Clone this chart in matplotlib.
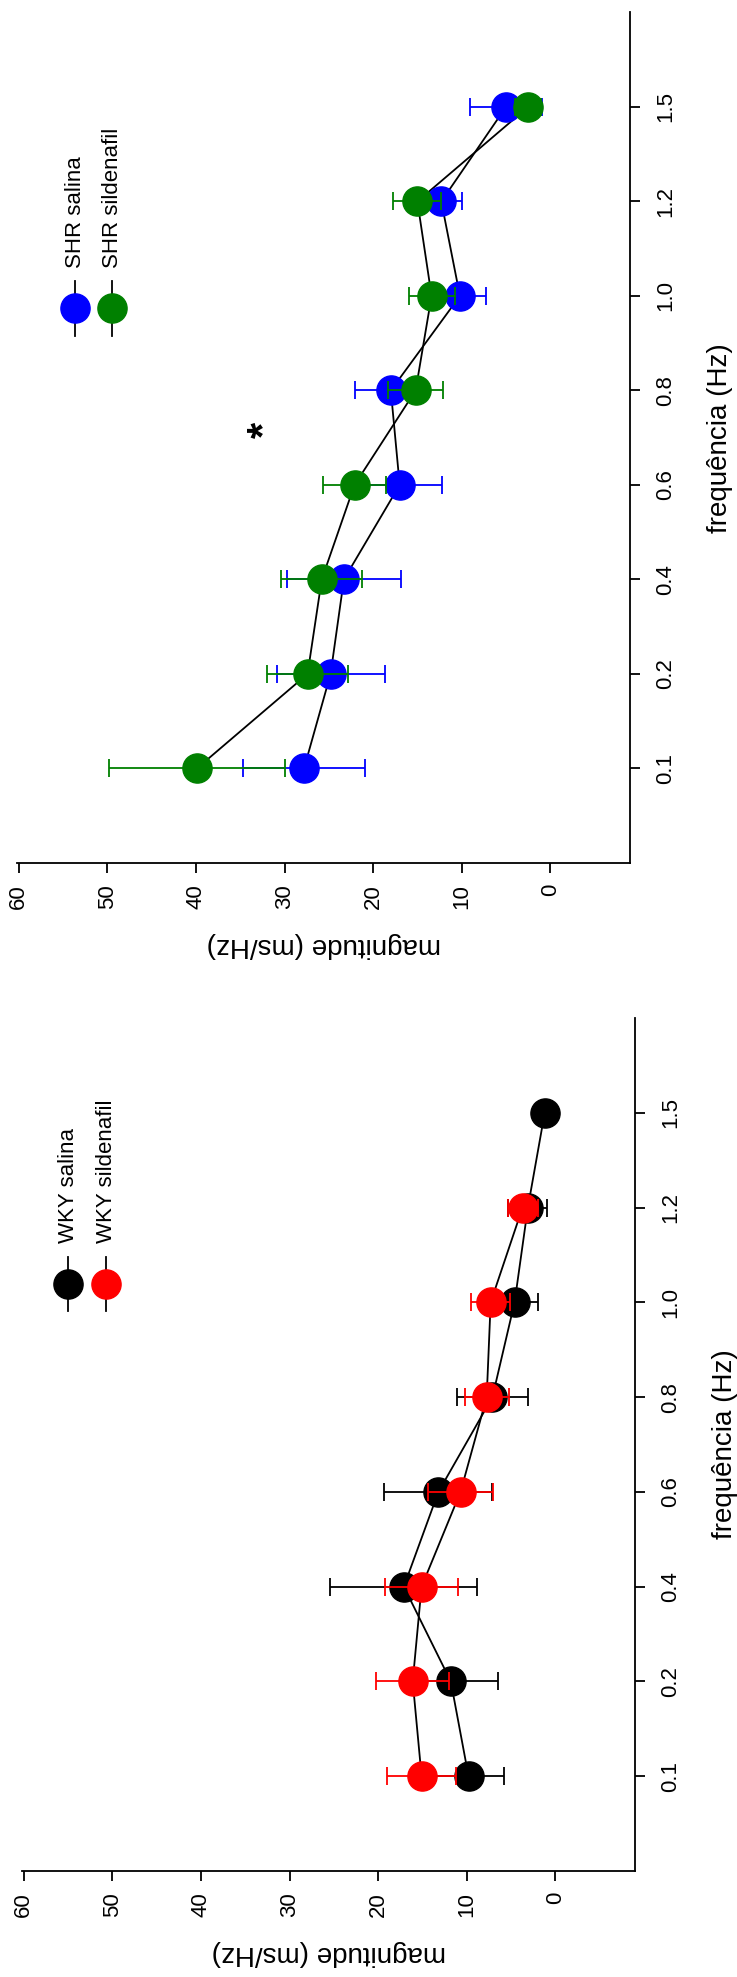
import matplotlib
matplotlib.use('Agg')
import matplotlib.pyplot as plt

plt.rcParams['font.family'] = ['Liberation Sans', 'DejaVu Sans']

# ---------------- data ----------------
freq_labels = ['0.1', '0.2', '0.4', '0.6', '0.8', '1.0', '1.2', '1.5']
freq_pos = [1, 2, 3, 4, 5, 6, 7, 8]

# WKY (bottom panel)
wky_salina = [9.8, 11.8, 17.1, 13.2, 7.1, 4.6, 3.1, 1.2]
wky_salina_err = [4.0, 5.3, 8.3, 6.1, 4.0, 2.6, 2.2, 0.8]
wky_silden = [15.1, 16.1, 15.1, 10.7, 7.75, 7.3, 3.7]
wky_silden_err = [3.9, 4.1, 4.1, 3.7, 2.5, 2.2, 1.7]

# SHR (top panel)
shr_salina = [27.8, 24.8, 23.3, 17.0, 18.0, 10.2, 12.3, 5.0]
shr_salina_err = [6.9, 6.1, 6.4, 4.8, 4.1, 2.9, 2.3, 4.1]
shr_silden = [39.9, 27.4, 25.8, 22.1, 15.2, 13.4, 15.0, 2.5]
shr_silden_err = [9.9, 4.6, 4.6, 3.6, 3.1, 2.6, 2.7, 1.5]

mag_ticks = [0, 10, 20, 30, 40, 50, 60]

# significance mark (magnitude, frequency position)
star_mag = 32.2
star_pos = 4.58

MS = 21      # marker size (pt)
LW = 1.3
CAP = 6.8
FS_TICK = 16
FS_LAB = 20


def draw_panel(ax, sal, sal_err, sil, sil_err, c_sal, c_sil, names, leg):
    # black connecting lines, under everything
    ax.plot(sal, freq_pos[:len(sal)], color='black', lw=LW, zorder=1)
    ax.plot(sil, freq_pos[:len(sil)], color='black', lw=LW, zorder=1)

    # salina: points then error bars
    ax.plot(sal, freq_pos[:len(sal)], 'o', ms=MS, color=c_sal, mec=c_sal, zorder=2)
    ax.errorbar(sal, freq_pos[:len(sal)], xerr=sal_err, fmt='none', ecolor=c_sal,
                elinewidth=LW, capsize=CAP, capthick=LW, zorder=3)
    # sildenafil on top
    ax.plot(sil, freq_pos[:len(sil)], 'o', ms=MS, color=c_sil, mec=c_sil, zorder=4)
    ax.errorbar(sil, freq_pos[:len(sil)], xerr=sil_err, fmt='none', ecolor=c_sil,
                elinewidth=LW, capsize=CAP, capthick=LW, zorder=5)

    # axes (rotated R-style plot)
    ax.set_xlim(60.2, -9.0)
    ax.set_ylim(0, 9)
    ax.set_xticks(mag_ticks)
    ax.set_xticklabels([str(t) for t in mag_ticks], rotation=90, fontsize=FS_TICK,
                       va='top', ha='center')
    ax.set_yticks(freq_pos)
    ax.set_yticklabels(freq_labels, rotation=90, fontsize=FS_TICK, va='center')
    ax.yaxis.tick_right()
    ax.yaxis.set_label_position('right')
    ax.spines['top'].set_visible(False)
    ax.spines['left'].set_visible(False)
    ax.spines['bottom'].set_linewidth(LW)
    ax.spines['right'].set_linewidth(LW)
    ax.tick_params(axis='both', direction='out', length=7, width=LW)
    ax.tick_params(axis='x', pad=8)
    ax.tick_params(axis='y', pad=11)
    ax.set_xlabel('magnitude (ms/Hz)', rotation=180, fontsize=FS_LAB, labelpad=17)
    ax.set_ylabel('frequência (Hz)', rotation=90, fontsize=FS_LAB, labelpad=22)

    # manual legend (rotated)
    xs, yc, ytxt = leg
    for xf, col, name in zip(xs, [c_sal, c_sil], names):
        ax.plot([xf, xf], [yc - 0.032, yc + 0.032], color='black', lw=LW,
                transform=ax.transAxes, clip_on=False, zorder=6)
        ax.plot([xf], [yc], 'o', ms=MS, color=col, mec=col,
                transform=ax.transAxes, clip_on=False, zorder=7)
        ax.text(xf, ytxt, name, rotation=90, ha='center', va='bottom',
                fontsize=FS_TICK, transform=ax.transAxes)


fig = plt.figure(figsize=(7.37, 19.77), dpi=100)

ax_top = fig.add_axes([0.0231, 0.5635, 0.8317, 0.4302])
draw_panel(ax_top, shr_salina, shr_salina_err, shr_silden, shr_silden_err,
           'blue', 'green', ['SHR salina', 'SHR sildenafil'],
           ([0.0946, 0.155], 0.652, 0.700))
ax_top.text(star_mag, star_pos, '*', rotation=90, fontsize=30, fontweight='bold',
            ha='center', va='center')

ax_bot = fig.add_axes([0.0299, 0.0536, 0.8318, 0.4315])
draw_panel(ax_bot, wky_salina, wky_salina_err, wky_silden, wky_silden_err,
           'black', 'red', ['WKY salina', 'WKY sildenafil'],
           ([0.075, 0.137], 0.688, 0.736))

fig.savefig('out.png', dpi=100)
